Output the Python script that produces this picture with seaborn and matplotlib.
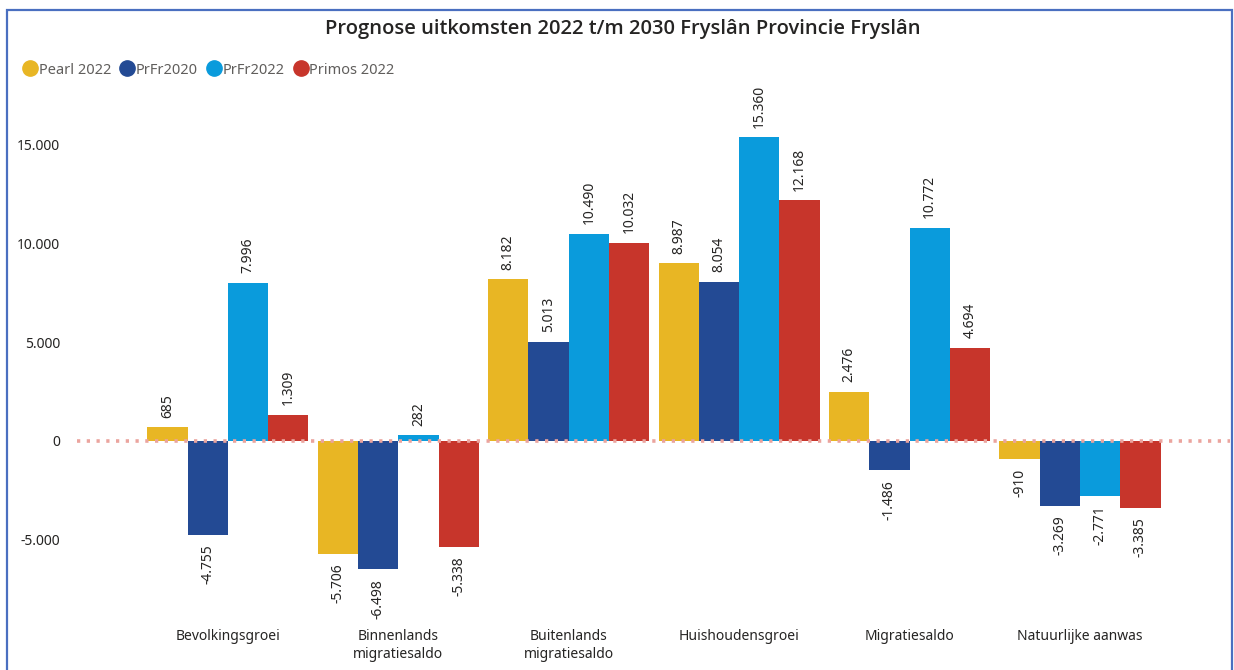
import pandas as pd
import seaborn as sns
import matplotlib.pyplot as plt
from matplotlib.lines import Line2D
from matplotlib.patches import Rectangle

# data
categories = ["Bevolkingsgroei", "Binnenlands\nmigratiesaldo", "Buitenlands\nmigratiesaldo",
              "Huishoudensgroei", "Migratiesaldo", "Natuurlijke aanwas"]
series = ["Pearl 2022", "PrFr2020", "PrFr2022", "Primos 2022"]
pearl_2022 = [685, -5706, 8182, 8987, 2476, -910]
prfr_2020 = [-4755, -6498, 5013, 8054, -1486, -3269]
prfr_2022 = [7996, 282, 10490, 15360, 10772, -2771]
primos_2022 = [1309, -5338, 10032, 12168, 4694, -3385]
yticks = [-5000, 0, 5000, 10000, 15000]

colors = ["#E8B624", "#234A94", "#0A9BDC", "#C7352B"]

rows = []
for name, vals in zip(series, [pearl_2022, prfr_2020, prfr_2022, primos_2022]):
    for cat, v in zip(categories, vals):
        rows.append({"cat": cat, "serie": name, "waarde": v})
df = pd.DataFrame(rows)

sns.set_style("white")
plt.rcParams["font.family"] = ["Noto Sans", "DejaVu Sans"]

fig = plt.figure(figsize=(12.34, 6.7), dpi=100)
ax = fig.add_axes([77 / 1234, 1 - 610 / 670, (1230 - 77) / 1234, (610 - 100) / 670])

sns.barplot(data=df, x="cat", y="waarde", hue="serie", hue_order=series,
            palette=colors, width=0.945, saturation=1, legend=False, ax=ax,
            edgecolor="none", linewidth=0)

def dutch(x):
    return f"{x:,.0f}".replace(",", ".")

for cont in ax.containers:
    ax.bar_label(cont, fmt=dutch, rotation=90, padding=7, fontsize=10, color="#252423")

ax.axhline(0, color="#EBA49E", ls=(0, (0.9, 1.8)), lw=2.6, zorder=5)

ax.set_xlim(-0.885, 5.88)
ax.set_ylim(-8550, 17250)
ax.set_yticks(yticks)
ax.set_yticklabels([dutch(t) for t in yticks], fontsize=10, color="#252423")
ax.tick_params(axis="x", labelsize=10, colors="#252423", pad=14, length=0)
ax.tick_params(axis="y", length=0, pad=12)
ax.set_xlabel("")
ax.set_ylabel("")
sns.despine(ax=ax, left=True, bottom=True)

fig.text(0.505, 1 - 29 / 670, "Prognose uitkomsten 2022 t/m 2030 Fryslân Provincie Fryslân",
         ha="center", va="center", fontsize=14.5, fontweight="semibold", color="#252423",
         family=["Open Sans", "Lato", "DejaVu Sans"])

handles = [Line2D([], [], marker="o", ls="", color=c, markersize=11) for c in colors]
fig.legend(handles, series, loc="center left", bbox_to_anchor=(8 / 1234, 1 - 70 / 670),
           ncol=4, frameon=False, handletextpad=0.0, columnspacing=0.5,
           prop={"size": 10.5}, labelcolor="#605E5C", handlelength=1.2)

fig.patches.append(Rectangle((7 / 1234, -0.02), (1232 - 7) / 1234, 1 - 10 / 670 + 0.02,
                             transform=fig.transFigure, fill=False, ec="#4A6FC0", lw=1.6))

fig.savefig("out.png", dpi=100)
